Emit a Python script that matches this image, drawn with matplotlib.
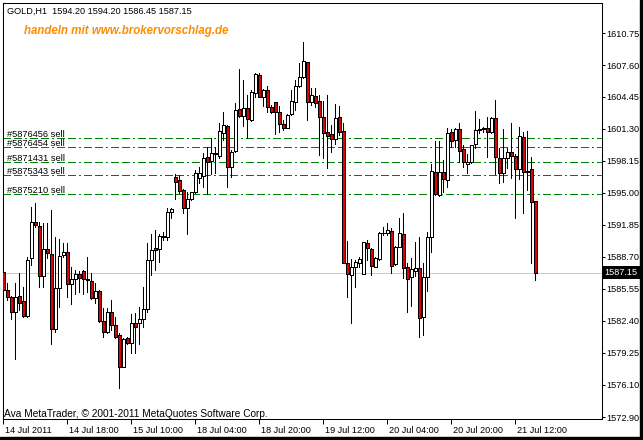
import matplotlib
matplotlib.use("Agg")
import matplotlib.pyplot as plt
import matplotlib.transforms as mtransforms
from matplotlib.patches import Rectangle

plt.rcParams['font.family'] = ['Liberation Sans', 'DejaVu Sans']
plt.rcParams['lines.scale_dashes'] = False

# ---------------- data ----------------
symbol = "GOLD,H1"
opens = [1587.17, 1585.43, 1584.74, 1583.30, 1584.84, 1584.35, 1582.90, 1588.55, 1592.13, 1591.74,
         1586.84, 1589.44, 1588.95, 1581.56, 1585.60, 1588.88, 1589.14, 1585.99, 1586.52, 1586.98,
         1587.30, 1586.52, 1586.32, 1584.61, 1585.33, 1582.38, 1581.33, 1583.23, 1581.98, 1581.03,
         1577.88, 1580.70, 1580.18, 1582.15, 1582.15, 1582.54, 1583.56, 1588.39, 1589.54, 1589.44,
         1590.62, 1590.69, 1593.08, 1596.60, 1596.27, 1595.28, 1593.48, 1594.36, 1595.05, 1596.43,
         1596.66, 1598.57, 1598.17, 1598.80, 1598.66, 1600.93, 1601.59, 1597.51, 1599.16, 1603.23,
         1602.57, 1603.33, 1602.18, 1604.81, 1606.61, 1604.48, 1605.13, 1603.43, 1603.92, 1602.93,
         1601.75, 1601.42, 1602.74, 1603.98, 1605.53, 1606.38, 1607.86, 1603.98, 1604.54, 1604.05,
         1602.44, 1600.96, 1600.80, 1600.27, 1602.44, 1601.09, 1588.06, 1586.91, 1587.73, 1588.12,
         1587.01, 1590.03, 1589.44, 1587.73, 1588.48, 1591.01, 1591.01, 1591.28, 1587.96, 1589.70,
         1590.92, 1587.66, 1586.68, 1587.34, 1587.57, 1582.80, 1586.68, 1590.62, 1597.02, 1594.79,
         1597.02, 1596.27, 1600.96, 1600.21, 1601.26, 1599.29, 1597.81, 1598.01, 1599.78, 1601.19,
         1601.26, 1601.36, 1600.96, 1602.34, 1598.40, 1596.92, 1598.40, 1599.06, 1598.67, 1597.32,
         1600.47, 1597.15, 1597.32, 1594.20]
highs = [1587.40, 1586.09, 1584.84, 1586.09, 1587.07, 1585.76, 1588.72, 1593.64, 1593.97, 1592.16,
         1592.00, 1592.00, 1593.31, 1590.69, 1590.46, 1590.03, 1590.03, 1587.73, 1587.40, 1587.30,
         1587.40, 1588.72, 1587.07, 1586.09, 1585.43, 1583.63, 1583.63, 1584.45, 1582.80, 1581.16,
         1580.67, 1580.77, 1583.07, 1583.13, 1583.79, 1585.76, 1590.03, 1590.95, 1591.34, 1590.95,
         1591.18, 1593.48, 1593.48, 1596.86, 1596.76, 1595.35, 1595.12, 1595.12, 1597.25, 1597.58,
         1598.89, 1599.55, 1600.37, 1599.55, 1601.85, 1603.00, 1601.69, 1599.22, 1603.82, 1607.20,
         1606.12, 1604.64, 1605.13, 1606.78, 1606.78, 1605.20, 1605.53, 1603.66, 1603.98, 1603.59,
         1602.18, 1602.77, 1605.13, 1606.12, 1607.83, 1609.90, 1607.93, 1605.30, 1605.30, 1604.64,
         1604.05, 1604.64, 1601.69, 1603.72, 1603.56, 1601.85, 1590.26, 1588.48, 1588.39, 1588.71,
         1590.19, 1590.36, 1589.53, 1588.71, 1591.18, 1591.67, 1592.00, 1591.51, 1589.77, 1592.49,
         1592.98, 1588.06, 1588.55, 1590.13, 1590.62, 1588.06, 1591.18, 1597.81, 1600.11, 1600.11,
         1598.24, 1601.36, 1601.26, 1601.42, 1601.85, 1599.72, 1598.83, 1599.72, 1603.07, 1602.28,
         1601.52, 1602.51, 1602.44, 1604.15, 1599.39, 1601.29, 1599.39, 1601.85, 1598.83, 1601.52,
         1601.03, 1601.10, 1598.50, 1594.20]
lows = [1585.27, 1584.45, 1582.54, 1578.67, 1583.46, 1582.80, 1582.80, 1587.90, 1591.67, 1585.76,
        1585.76, 1588.60, 1580.08, 1581.33, 1583.79, 1588.72, 1584.78, 1584.05, 1585.01, 1585.27,
        1585.04, 1585.27, 1584.51, 1584.12, 1582.31, 1580.83, 1581.23, 1581.49, 1580.67, 1575.74,
        1577.81, 1580.11, 1579.26, 1579.19, 1580.08, 1581.82, 1583.30, 1586.91, 1587.40, 1588.22,
        1590.36, 1590.36, 1592.49, 1594.36, 1594.96, 1592.99, 1590.95, 1594.30, 1594.96, 1595.94,
        1595.61, 1594.89, 1596.86, 1596.92, 1598.40, 1600.21, 1595.61, 1596.60, 1599.06, 1602.44,
        1601.59, 1600.37, 1602.11, 1604.41, 1604.41, 1603.59, 1603.00, 1602.90, 1600.77, 1601.03,
        1601.19, 1601.36, 1602.67, 1603.16, 1605.40, 1606.28, 1602.18, 1603.66, 1603.49, 1598.73,
        1598.47, 1597.42, 1598.99, 1599.81, 1600.70, 1588.06, 1584.77, 1582.21, 1585.69, 1587.73,
        1586.97, 1588.39, 1586.87, 1587.66, 1588.39, 1590.85, 1590.85, 1587.07, 1587.89, 1589.63,
        1586.65, 1583.23, 1583.89, 1586.84, 1580.83, 1581.00, 1585.37, 1589.21, 1594.79, 1594.72,
        1595.12, 1595.61, 1599.49, 1599.55, 1598.07, 1597.58, 1596.99, 1597.98, 1599.39, 1600.87,
        1601.03, 1598.50, 1600.87, 1596.83, 1595.94, 1596.10, 1597.42, 1596.43, 1592.49, 1596.33,
        1592.98, 1595.28, 1588.06, 1586.45]
closes = [1585.43, 1584.71, 1583.30, 1584.74, 1584.12, 1582.87, 1588.39, 1592.13, 1591.80, 1586.84,
          1589.44, 1589.04, 1581.56, 1585.60, 1588.78, 1589.14, 1585.99, 1586.52, 1586.98, 1586.58,
          1586.48, 1586.42, 1584.61, 1585.33, 1582.38, 1581.33, 1583.23, 1581.98, 1580.83, 1577.88,
          1580.60, 1580.18, 1582.15, 1581.82, 1582.54, 1583.56, 1588.39, 1589.37, 1589.37, 1590.75,
          1590.75, 1593.08, 1593.38, 1596.11, 1595.22, 1593.48, 1594.36, 1595.05, 1596.93, 1596.99,
          1598.40, 1598.07, 1598.89, 1598.89, 1601.09, 1601.69, 1597.58, 1598.99, 1603.16, 1602.57,
          1603.33, 1602.24, 1604.90, 1606.71, 1604.48, 1605.13, 1603.43, 1603.00, 1602.93, 1601.75,
          1601.36, 1602.64, 1604.05, 1605.53, 1606.38, 1607.99, 1603.98, 1604.64, 1603.89, 1602.44,
          1600.86, 1600.63, 1600.31, 1602.34, 1601.03, 1588.12, 1586.97, 1587.66, 1588.22, 1588.48,
          1590.13, 1589.53, 1587.83, 1588.55, 1591.01, 1591.08, 1591.34, 1587.83, 1589.70, 1591.01,
          1587.63, 1586.51, 1587.47, 1587.63, 1582.70, 1586.68, 1590.62, 1597.15, 1594.89, 1597.02,
          1596.33, 1600.93, 1600.11, 1601.26, 1599.16, 1598.04, 1598.07, 1599.72, 1601.19, 1601.26,
          1601.36, 1601.03, 1602.34, 1598.50, 1596.92, 1598.40, 1598.99, 1598.67, 1597.32, 1600.60,
          1597.02, 1597.02, 1594.13, 1587.15]

order_labels = ["#5876456 sell", "#5876454 sell", "#5871431 sell", "#5875343 sell", "#5875210 sell"]
order_prices = [1600.37, 1599.49, 1598.01, 1596.73, 1594.86]

ytick_values = [1610.75, 1607.60, 1604.45, 1601.30, 1598.15, 1595.00, 1591.85,
                1588.70, 1585.55, 1582.40, 1579.25, 1576.10, 1572.90]
xtick_labels = ["14 Jul 2011", "14 Jul 18:00", "15 Jul 10:00", "18 Jul 04:00", "18 Jul 20:00",
                "19 Jul 12:00", "20 Jul 04:00", "20 Jul 20:00", "21 Jul 12:00"]
xtick_bars = [0, 16, 32, 48, 64, 80, 96, 112, 128]

promo_text = "handeln mit www.brokervorschlag.de"
copyright_text = "Ava MetaTrader, \u00a9 2001-2011 MetaQuotes Software Corp."

# ---------------- figure ----------------
W, H = 643, 440
fig = plt.figure(figsize=(W / 100, H / 100), dpi=100, facecolor='white')
left_px, right_px, top_px, bot_px = 2.7, 601.7, 2.7, 419.0
ax = fig.add_axes([left_px / W, 1 - bot_px / H, (right_px - left_px) / W, (bot_px - top_px) / H])
ax.set_facecolor('white')

n = len(opens)
xs = list(range(n))
ax.set_xlim(-0.15, 149.6)
ax.set_ylim(1572.72, 1613.74)

# current bid line
bid = closes[-1]
ax.axhline(bid, color='#cccccc', lw=0.5, zorder=1, antialiased=False)

# order lines
px = 0.72
for lbl, p in zip(order_labels, order_prices):
    ax.axhline(p, color='#008000', lw=0.5, zorder=1.5, antialiased=False,
               dashes=(7 * px, 4 * px, 7 * px, 4 * px, 2 * px, 4 * px))
    ax.text(0.95, p + 0.12, lbl, fontsize=6.7, color='black', ha='left', va='baseline', zorder=5)

# candles
ax.vlines(xs, lows, highs, color='black', lw=0.5, zorder=2, antialiased=False)
body_bottom = [min(o, c) for o, c in zip(opens, closes)]
body_height = [max(abs(c - o), 0.02) for o, c in zip(opens, closes)]
fills = ['white' if c >= o else '#e00000' for o, c in zip(opens, closes)]
ax.bar(xs, body_height, bottom=body_bottom, width=0.64, color=fills,
       edgecolor='black', linewidth=0.5, zorder=3, antialiased=False)

# axes styling
for s in ax.spines.values():
    s.set_linewidth(0.75)
    s.set_color('black')

ax.yaxis.tick_right()
ax.set_yticks(ytick_values)
ax.set_yticklabels([f"{v:.2f}" for v in ytick_values])
ax.tick_params(axis='y', direction='out', length=2.5, width=0.72, pad=0.8, labelsize=6.6)

ax.set_xticks(xtick_bars)
ax.set_xticklabels(xtick_labels)
ax.tick_params(axis='x', direction='out', length=3.6, width=0.72, pad=1.5, labelsize=6.6)
offset = mtransforms.ScaledTranslation(1.5 / 100, 0, fig.dpi_scale_trans)
for lab in ax.get_xticklabels():
    lab.set_horizontalalignment('left')
    lab.set_transform(lab.get_transform() + offset)

# bid price box
ax.annotate(f"{bid:.2f}", xy=(1.0, bid), xycoords=('axes fraction', 'data'),
            xytext=(2.2, 0), textcoords='offset points', ha='left', va='center',
            color='white', fontsize=6.6, zorder=10, annotation_clip=False,
            bbox=dict(boxstyle='square,pad=0.2', fc='black', ec='black', lw=0))

# header and texts
header = f"{symbol}  {opens[-1]:.2f} {highs[-1]:.2f} {lows[-1]:.2f} {closes[-1]:.2f}"
fig.text(7 / W, 1 - 11 / H, header, fontsize=6.6, ha='left', va='center')
fig.text(24 / W, 1 - 31 / H, promo_text, fontsize=8.3, color='#ff8c00',
         weight='bold', style='italic', ha='left', va='center')
fig.text(4.5 / W, 1 - 414 / H, copyright_text, fontsize=7.3, ha='left', va='center')

# window border
fig.patches.append(Rectangle((640 / W, 0), 3 / W, 1, transform=fig.transFigure,
                             color='black', zorder=20))
fig.patches.append(Rectangle((0, 0), 1, 3 / H, transform=fig.transFigure,
                             color='black', zorder=20))

fig.savefig("out.png", dpi=100, facecolor='white')
